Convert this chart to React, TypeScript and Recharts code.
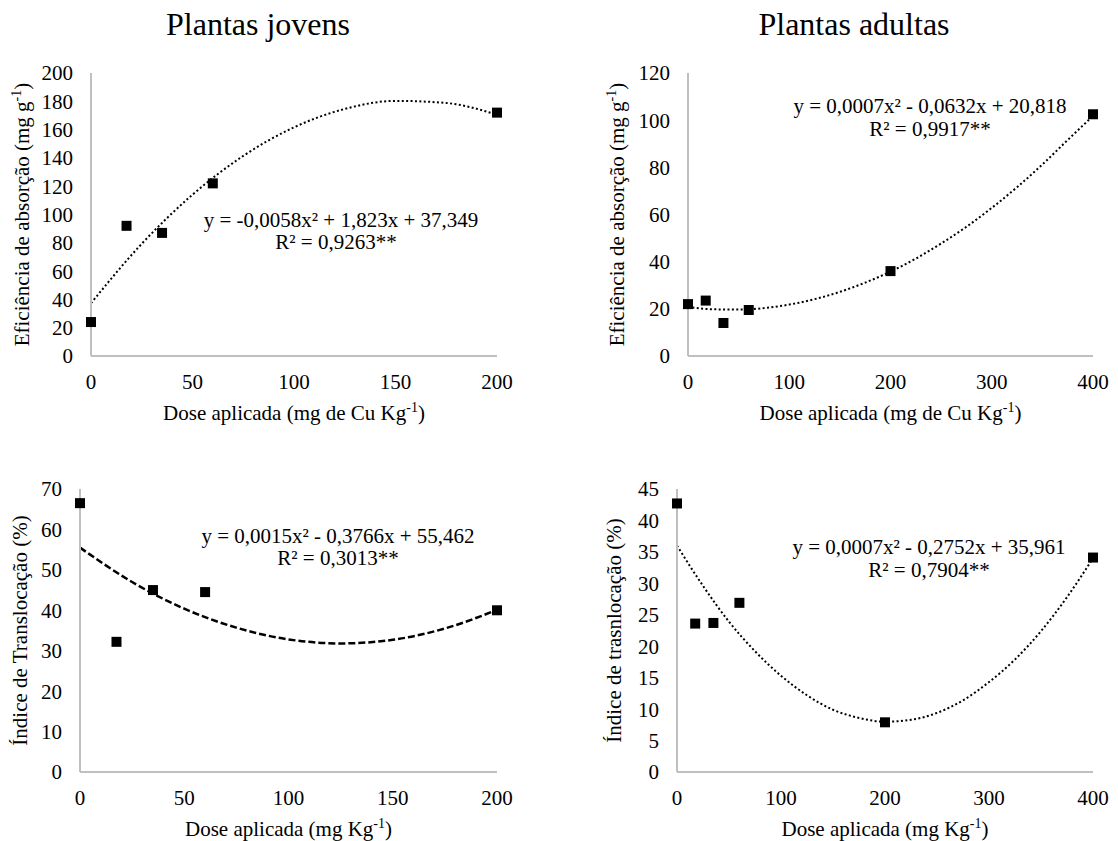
import React from 'react';
import { ComposedChart, Scatter, Line, XAxis, YAxis } from 'recharts';

const FONT = '"Liberation Serif", "Times New Roman", serif';
const AXIS = '#bfbfbf';

// doses aplicadas (mg kg-1)
const doseJovens = [0, 17.5, 35, 60, 200];
const doseAdultas = [0, 17.5, 35, 60, 200, 400];

// valores observados
const eficienciaJovens = [24, 92, 87, 122, 172];
const eficienciaAdultas = [22, 23.5, 14, 19.5, 36, 102.5];
const translocacaoJovens = [66.5, 32.2, 45, 44.5, 40];
const translocacaoAdultas = [42.7, 23.6, 23.7, 26.9, 7.9, 34.1];

// curvas de tendencia
const curvaXJovens = [0, 25, 50, 75, 100, 125, 150, 175, 200];
const curvaEficienciaJovens = [37.3, 79.3, 114, 141.4, 161.6, 174.6, 180.3, 178.8, 170.5];
const curvaTranslocacaoJovens = [55.5, 47.0, 40.4, 35.7, 32.8, 31.8, 32.7, 35.5, 40.1];
const curvaXAdultas = [0, 25, 50, 75, 100, 125, 150, 175, 200, 225, 250, 275, 300, 325, 350, 375, 400];
const curvaEficienciaAdultas = [20.8, 19.8, 19.7, 20.3, 21.8, 24.1, 27.2, 31.1, 35.8, 41.3, 47.7, 54.8, 62.8, 71.6, 81.2, 91.6, 101.8];
const curvaTranslocacaoAdultas = [36, 29.6, 23.9, 19.2, 15.3, 12.2, 9.9, 8.6, 8, 8.3, 9.4, 11.4, 14.3, 17.9, 22.4, 27.8, 34];

// eixos
const ticksX200 = [0, 50, 100, 150, 200];
const ticksX400 = [0, 100, 200, 300, 400];
const ticksEficienciaJovens = [0, 20, 40, 60, 80, 100, 120, 140, 160, 180, 200];
const ticksEficienciaAdultas = [0, 20, 40, 60, 80, 100, 120];
const ticksTranslocacaoJovens = [0, 10, 20, 30, 40, 50, 60, 70];
const ticksTranslocacaoAdultas = [0, 5, 10, 15, 20, 25, 30, 35, 40, 45];

const AXIS_W = 60;

const Quadrado = (p: any) => (
  <rect x={p.cx - 5} y={p.cy - 5} width={10} height={10} fill="#000" />
);

const Sup = ({ t }: { t: string }) => (
  <>
    <tspan dy={-8} fontSize={14}>{t}</tspan>
    <tspan dy={8}>)</tspan>
  </>
);

interface PainelProps {
  left: number;
  top: number;
  width: number;
  height: number;
  plot: { top: number; right: number; bottom: number; left: number };
  xs: number[];
  ys: number[];
  curvaX: number[];
  curvaY: number[];
  xTicks: number[];
  yTicks: number[];
  yLabel: React.ReactNode;
  xLabel: React.ReactNode;
  yLabelOffset: number;
  xLabelOffset: number;
  dash: string;
  lineWidth: number;
}

const Painel: React.FC<PainelProps> = (props) => {
  const pontos = props.xs.map((x, i) => ({ x, y: props.ys[i] }));
  const curva = props.curvaX.map((x, i) => ({ x, y: props.curvaY[i] }));
  const tick = { fill: '#000', fontSize: 21, fontFamily: FONT };
  const xMax = props.xTicks[props.xTicks.length - 1];
  const yMax = props.yTicks[props.yTicks.length - 1];
  const margin = {
    top: props.plot.top,
    right: props.plot.right,
    bottom: props.plot.bottom - AXIS_W,
    left: props.plot.left - AXIS_W,
  };

  return (
    <div style={{ position: 'absolute', left: props.left, top: props.top }}>
      <ComposedChart width={props.width} height={props.height} margin={margin}>
        <XAxis
          type="number"
          dataKey="x"
          domain={[0, xMax]}
          ticks={props.xTicks}
          interval={0}
          height={AXIS_W}
          tickLine={false}
          tickSize={0}
          tickMargin={18}
          axisLine={{ stroke: AXIS, strokeWidth: 2 }}
          tick={tick}
          label={{
            content: (lp: any) => {
              const vb = lp.viewBox;
              return (
                <text
                  x={vb.x + vb.width / 2}
                  y={vb.y + props.xLabelOffset}
                  textAnchor="middle"
                  fontFamily={FONT}
                  fontSize={21}
                  fill="#000"
                >
                  {props.xLabel}
                </text>
              );
            },
          }}
        />
        <YAxis
          type="number"
          dataKey="y"
          domain={[0, yMax]}
          ticks={props.yTicks}
          interval={0}
          width={AXIS_W}
          tickLine={false}
          tickSize={0}
          tickMargin={18}
          axisLine={{ stroke: AXIS, strokeWidth: 2 }}
          tick={tick}
          label={{
            content: (lp: any) => {
              const vb = lp.viewBox;
              const cx = vb.x + vb.width - props.yLabelOffset;
              const cy = vb.y + vb.height / 2;
              return (
                <text
                  x={cx}
                  y={cy}
                  dy="0.35em"
                  textAnchor="middle"
                  transform={`rotate(-90 ${cx} ${cy})`}
                  fontFamily={FONT}
                  fontSize={21}
                  fill="#000"
                >
                  {props.yLabel}
                </text>
              );
            },
          }}
        />
        <Line
          data={curva}
          dataKey="y"
          type="monotone"
          stroke="#000"
          strokeWidth={props.lineWidth}
          strokeDasharray={props.dash}
          dot={false}
          activeDot={false}
          isAnimationActive={false}
        />
        <Scatter data={pontos} dataKey="y" shape={Quadrado} isAnimationActive={false} />
      </ComposedChart>
    </div>
  );
};

const texto = { fontFamily: FONT, fontSize: 21, fill: '#000' };

export default function App() {
  return (
    <div style={{ position: 'absolute', left: 0, top: 0, width: 1118, height: 841, background: '#fff' }}>
      <Painel
        left={0}
        top={0}
        width={559}
        height={430}
        plot={{ top: 73, right: 62, bottom: 74, left: 91 }}
        xs={doseJovens}
        ys={eficienciaJovens}
        curvaX={curvaXJovens}
        curvaY={curvaEficienciaJovens}
        xTicks={ticksX200}
        yTicks={ticksEficienciaJovens}
        yLabel={<>Eficiência de absorção (mg g<Sup t="-1" /></>}
        xLabel={<>Dose aplicada (mg de Cu Kg<Sup t="-1" /></>}
        yLabelOffset={69}
        xLabelOffset={64}
        dash="2 2.4"
        lineWidth={2}
      />
      <Painel
        left={559}
        top={0}
        width={559}
        height={430}
        plot={{ top: 73, right: 25, bottom: 74, left: 129 }}
        xs={doseAdultas}
        ys={eficienciaAdultas}
        curvaX={curvaXAdultas}
        curvaY={curvaEficienciaAdultas}
        xTicks={ticksX400}
        yTicks={ticksEficienciaAdultas}
        yLabel={<>Eficiência de absorção (mg g<Sup t="-1" /></>}
        xLabel={<>Dose aplicada (mg de Cu Kg<Sup t="-1" /></>}
        yLabelOffset={71}
        xLabelOffset={64}
        dash="2 2.4"
        lineWidth={2}
      />
      <Painel
        left={0}
        top={430}
        width={559}
        height={411}
        plot={{ top: 59, right: 62, bottom: 69, left: 80 }}
        xs={doseJovens}
        ys={translocacaoJovens}
        curvaX={curvaXJovens}
        curvaY={curvaTranslocacaoJovens}
        xTicks={ticksX200}
        yTicks={ticksTranslocacaoJovens}
        yLabel={<>Índice de Translocação (%)</>}
        xLabel={<>Dose aplicada (mg Kg<Sup t="-1" /></>}
        yLabelOffset={60}
        xLabelOffset={64}
        dash="7 3"
        lineWidth={2.5}
      />
      <Painel
        left={559}
        top={430}
        width={559}
        height={411}
        plot={{ top: 59, right: 25, bottom: 69, left: 118 }}
        xs={doseAdultas}
        ys={translocacaoAdultas}
        curvaX={curvaXAdultas}
        curvaY={curvaTranslocacaoAdultas}
        xTicks={ticksX400}
        yTicks={ticksTranslocacaoAdultas}
        yLabel={<>Índice de trasnlocação (%)</>}
        xLabel={<>Dose aplicada (mg Kg<Sup t="-1" /></>}
        yLabelOffset={63}
        xLabelOffset={64}
        dash="2 2.4"
        lineWidth={2}
      />
      <svg
        width={1118}
        height={841}
        style={{ position: 'absolute', left: 0, top: 0, pointerEvents: 'none' }}
      >
        <text x={258} y={35} textAnchor="middle" fontFamily={FONT} fontSize={32} fill="#000">
          Plantas jovens
        </text>
        <text x={854} y={35} textAnchor="middle" fontFamily={FONT} fontSize={32} fill="#000">
          Plantas adultas
        </text>

        <text x={341} y={227} textAnchor="middle" {...texto}>y = -0,0058x² + 1,823x + 37,349</text>
        <text x={336} y={249} textAnchor="middle" {...texto}>R² = 0,9263**</text>

        <text x={930} y={113} textAnchor="middle" {...texto}>y = 0,0007x² - 0,0632x + 20,818</text>
        <text x={930} y={136} textAnchor="middle" {...texto}>R² = 0,9917**</text>

        <text x={338} y={543} textAnchor="middle" {...texto}>y = 0,0015x² - 0,3766x + 55,462</text>
        <text x={338} y={565} textAnchor="middle" {...texto}>R² = 0,3013**</text>

        <text x={929} y={554} textAnchor="middle" {...texto}>y = 0,0007x² - 0,2752x + 35,961</text>
        <text x={929} y={577} textAnchor="middle" {...texto}>R² = 0,7904**</text>
      </svg>
    </div>
  );
}
